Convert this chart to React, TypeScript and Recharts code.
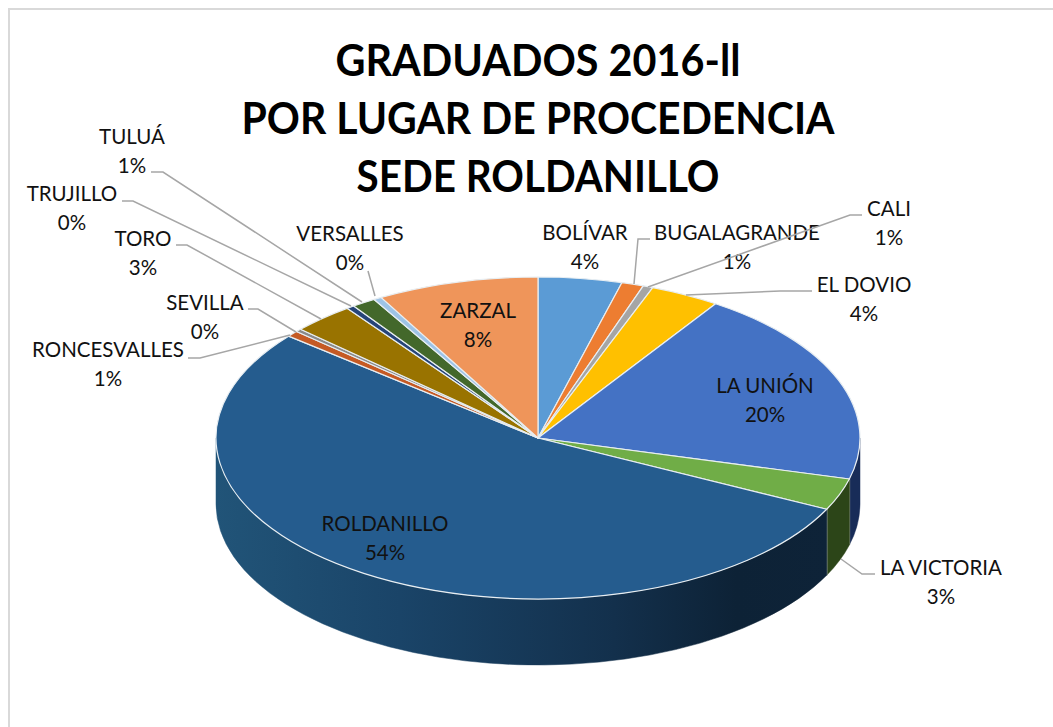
import React from "react"
import { Pie, PieChart } from "recharts"

const categories = ["BOLÍVAR", "BUGALAGRANDE", "CALI", "EL DOVIO", "LA UNIÓN", "LA VICTORIA", "ROLDANILLO", "RONCESVALLES", "SEVILLA", "TORO", "TRUJILLO", "TULUÁ", "VERSALLES", "ZARZAL"]
const shares = [4.2, 1.1, 0.5, 3.5, 19.8, 3.2, 53.6, 0.6, 0.3, 3.1, 0.4, 1.2, 0.4, 8.1]
const percentLabels = ["4%", "1%", "1%", "4%", "20%", "3%", "54%", "1%", "0%", "3%", "0%", "1%", "0%", "8%"]
const colors = ["#5b9bd5", "#ed7d31", "#a5a5a5", "#ffc000", "#4472c4", "#70ad47", "#255c8e", "#c55a24", "#8a8a8a", "#997300", "#264478", "#43682b", "#9dc3e6", "#ef955a"]
const sideColors = ["#2e4e6b", "#773f18", "#535353", "#806000", "#182c58", "#2c4518", "#0e2338", "#63301a", "#454545", "#4d3a00", "#132240", "#223416", "#4f6273", "#79492d"]
const titleLines = ["GRADUADOS 2016-ll", "POR LUGAR DE PROCEDENCIA", "SEDE ROLDANILLO"]
const titleWidths = [405, 593, 363]

const data = categories.map((name, i) => ({ name, value: shares[i] }))

const CX = 538
const CY = 438
const RX = 322
const SQUASH = 0.5
const DEPTH = 66

// label centre plus leader line polyline, by category
const labelLayout: Record<string, { x: number; y: number; leader?: number[][] }> = {
  "BOLÍVAR": { x: 585, y: 233 },
  "BUGALAGRANDE": { x: 737, y: 233, leader: [[650, 239], [638, 239], [634, 284]] },
  "CALI": { x: 889, y: 209, leader: [[862, 215], [850, 215], [648, 287]] },
  "EL DOVIO": { x: 864, y: 285, leader: [[812, 291], [780, 291], [686, 295]] },
  "LA UNIÓN": { x: 765, y: 386 },
  "LA VICTORIA": { x: 941, y: 568, leader: [[875, 574], [862, 574], [841, 559]] },
  "ROLDANILLO": { x: 385, y: 524 },
  "RONCESVALLES": { x: 108, y: 350, leader: [[188, 358], [200, 358], [290, 335]] },
  "SEVILLA": { x: 205, y: 303, leader: [[248, 309], [258, 309], [296, 332]] },
  "TORO": { x: 143, y: 239, leader: [[176, 245], [187, 245], [321, 319]] },
  "TRUJILLO": { x: 72, y: 194, leader: [[122, 201], [133, 201], [351, 306]] },
  "TULUÁ": { x: 132, y: 137, leader: [[151, 172], [163, 172], [362, 302]] },
  "VERSALLES": { x: 350, y: 234, leader: [[368, 271], [375, 296]] },
  "ZARZAL": { x: 478, y: 311 },
}

const point = (deg: number, cx: number, cy: number, r: number) => {
  const a = (deg * Math.PI) / 180
  return [cx + r * Math.cos(a), cy - r * SQUASH * Math.sin(a)]
}

// recharts hands us the angles, we only flatten the circle into an ellipse
const TopSlice = (props: any) => {
  const { cx, cy, outerRadius, startAngle, endAngle, index } = props
  const [x0, y0] = point(startAngle, cx, cy, outerRadius)
  const [x1, y1] = point(endAngle, cx, cy, outerRadius)
  const large = Math.abs(endAngle - startAngle) > 180 ? 1 : 0
  const d = `M${cx},${cy} L${x0},${y0} A${outerRadius},${outerRadius * SQUASH} 0 ${large} 1 ${x1},${y1} Z`
  return <path d={d} fill={colors[index]} stroke="#e8eef2" strokeWidth={1.2} strokeLinejoin="round" />
}

const SideSlice = (props: any) => {
  const { cx, cy, outerRadius, startAngle, endAngle, index } = props
  // only the front half of the rim can be seen (angles run 90 down to -270)
  const from = Math.min(startAngle, 0)
  const to = Math.max(endAngle, -180)
  if (from <= to) return <g />
  const [x0, y0] = point(from, cx, cy, outerRadius)
  const [x1, y1] = point(to, cx, cy, outerRadius)
  const d = `M${x0},${y0} A${outerRadius},${outerRadius * SQUASH} 0 0 1 ${x1},${y1} L${x1},${y1 + DEPTH} A${outerRadius},${outerRadius * SQUASH} 0 0 0 ${x0},${y0 + DEPTH} Z`
  const fill = categories[index] === "ROLDANILLO" ? "url(#rimRoldanillo)" : sideColors[index]
  return (
    <g>
      <path d={d} fill={fill} stroke={fill} strokeWidth={0.5} />
      {to > -180 && <line x1={x1} y1={y1} x2={x1} y2={y1 + DEPTH} stroke="#9aa39a" strokeWidth={1.5} />}
    </g>
  )
}

const SliceLabel = (props: any) => {
  const name = categories[props.index]
  const l = labelLayout[name]
  return (
    <g fontFamily="Lato" fontSize={20.5} fill="#111" textAnchor="middle">
      {l.leader && (
        <polyline points={l.leader.map((p) => p.join(",")).join(" ")} fill="none" stroke="#a6a6a6" strokeWidth={1.5} />
      )}
      <text x={l.x} y={l.y + 7}>{name}</text>
      <text x={l.x} y={l.y + 36}>{percentLabels[props.index]}</text>
    </g>
  )
}

const App = () => {
  return (
    <div style={{ position: "absolute", left: 0, top: 0, width: 1053, height: 727, background: "#fff" }}>
      <PieChart width={1053} height={727} margin={{ top: 0, right: 0, bottom: 0, left: 0 }}>
        <defs>
          <linearGradient id="rimRoldanillo" x1="216" x2="828" y1="0" y2="0" gradientUnits="userSpaceOnUse">
            <stop offset="0" stopColor="#215478" />
            <stop offset="0.3" stopColor="#1a4468" />
            <stop offset="0.65" stopColor="#13304c" />
            <stop offset="0.85" stopColor="#0d2236" />
            <stop offset="1" stopColor="#0e2338" />
          </linearGradient>
        </defs>
        <rect x={9} y={9} width={1060} height={740} fill="none" stroke="#d9d9d9" strokeWidth={2} />
        <Pie
          data={data}
          dataKey="value"
          nameKey="name"
          cx={CX}
          cy={CY}
          outerRadius={RX}
          innerRadius={0}
          startAngle={90}
          endAngle={-270}
          stroke="none"
          shape={SideSlice}
          isAnimationActive={false}
          legendType="none"
        />
        <Pie
          data={data}
          dataKey="value"
          nameKey="name"
          cx={CX}
          cy={CY}
          outerRadius={RX}
          innerRadius={0}
          startAngle={90}
          endAngle={-270}
          shape={TopSlice}
          label={SliceLabel}
          labelLine={false}
          isAnimationActive={false}
          legendType="none"
        />
        {titleLines.map((line, i) => (
          <text
            key={line}
            x={538}
            y={76 + i * 58}
            textAnchor="middle"
            fontFamily="Lato"
            fontWeight={700}
            fontSize={44}
            fill="#000"
            textLength={titleWidths[i]}
            lengthAdjust="spacingAndGlyphs"
          >
            {line}
          </text>
        ))}
      </PieChart>
    </div>
  )
}

export default App
